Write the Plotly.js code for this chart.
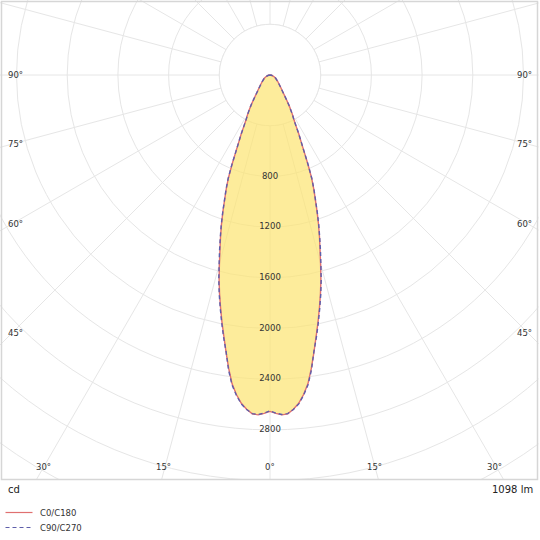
<!DOCTYPE html>
<html>
<head>
<meta charset="utf-8">
<script src="https://cdn.plot.ly/plotly-3.0.1.min.js"></script>
<style>
  body { margin: 0; width: 540px; height: 540px; overflow: hidden; position: relative; background: #fff; }
  #plot { position: absolute; left: -237.5px; top: -432.5px; }
</style>
</head>
<body>
<div id="plot"></div>
<script>
// gamma angles (deg from nadir) and luminous intensity (cd)
var gamma = [0,1,2,3,4,5,6,7,8,9,10,11,12,13,14,15,16,17,18,19,20,21,22,23,24,25,26,27,28,29,30,32,34,37,42,50,60,70,80,90];
var c0c180 = [2654,2670,2683,2677,2643,2600,2535,2455,2340,2215,2095,1986,1876,1770,1660,1542,1432,1335,1239,1142,1046,963,876,769,660,580,520,455,405,375,345,285,228,170,120,80,52,30,13,0];
var c90c270 = [2650,2668,2680,2675,2645,2605,2540,2462,2350,2212,2105,1995,1886,1780,1670,1552,1445,1342,1245,1146,1050,968,882,772,662,582,520,455,405,374,344,284,227,168,119,80,52,30,13,0];

var radialLabels = [800,1200,1600,2000,2400,2800];
var gridCircles = [400,800,1200,1600,2000,2400,2800,3200,3600,4000];
var seriesNames = ['C0/C180','C90/C270'];
var seriesColors = ['#e07070', '#5e5eaa'];
var seriesDash = ['solid', '4px,3px'];
var unitLabel = 'cd';
var fluxLabel = '1098 lm';

// page geometry: big polar div shifted so the pole sits at (269.5, 74.5)
var S = 1014, OX = 237.5, OY = 432.5;
function fx(x) { return (x + OX) / S; }
function fy(y) { return 1 - (y + OY) / S; }

// mirror a half-plane curve onto both sides (-90..90)
function both(vals, sign) {
  var out = [];
  for (var i = vals.length - 1; i > 0; i--) out.push(sign ? -vals[i] : vals[i]);
  for (var j = 0; j < vals.length; j++) out.push(vals[j]);
  return out;
}
var theta = both(gamma, true);
var r0 = both(c0c180, false);
var r90 = both(c90c270, false);

// white disc inside the first grid circle
var maskT = [], maskR = [];
for (var a = 0; a <= 360; a += 5) { maskT.push(a); maskR.push(gridCircles[0]); }

var gridColor = '#e6e6e6';
var font = {family: 'DejaVu Sans, Verdana, sans-serif', size: 8.5, color: '#333'};

var data = [
  {type: 'scatterpolar', r: maskR, theta: maskT, mode: 'lines', fill: 'toself',
   fillcolor: '#fff', line: {color: gridColor, width: 1}, hoverinfo: 'skip'},
  {type: 'scatterpolar', r: r0, theta: theta, mode: 'lines', fill: 'toself',
   fillcolor: 'rgba(252,228,112,0.7)', line: {width: 0}, hoverinfo: 'skip'},
  {type: 'scatterpolar', r: r0, theta: theta, mode: 'lines', name: seriesNames[0],
   line: {color: seriesColors[0], width: 1.4, dash: seriesDash[0]}, hoverinfo: 'skip'},
  {type: 'scatterpolar', r: r90, theta: theta, mode: 'lines', name: seriesNames[1],
   line: {color: seriesColors[1], width: 1.4, dash: seriesDash[1]}, hoverinfo: 'skip'},
  {type: 'scatterpolar', r: radialLabels, theta: radialLabels.map(function () { return 0; }),
   mode: 'text', text: radialLabels.map(String), textfont: font, hoverinfo: 'skip'}
];

var angT = [];
for (var t = 0; t < 360; t += 15) angT.push(t);

var annotations = [];
function ann(text, x, y, xa, f) {
  annotations.push({text: text, x: fx(x), y: fy(y), xref: 'paper', yref: 'paper',
    xanchor: xa, yanchor: 'middle', showarrow: false, font: f || font});
}
var sideAngles = ['90°','75°','60°','45°'];
var sideY = [75, 143, 223, 332];
for (var k = 0; k < sideAngles.length; k++) {
  ann(sideAngles[k], 5, sideY[k], 'left');
  ann(sideAngles[k], 533, sideY[k], 'right');
}
var bottomAngles = ['30°','15°','0°','15°','30°'];
var bottomX = [43, 163, 269, 374, 494];
for (var m = 0; m < bottomAngles.length; m++) ann(bottomAngles[m], bottomX[m], 466, 'center');

var bigFont = {family: font.family, size: 10, color: '#222'};
ann(unitLabel, 5, 489, 'left', bigFont);
ann(fluxLabel, 534, 489, 'right', bigFont);

var shapes = [
  {type: 'rect', xref: 'paper', yref: 'paper', layer: 'above', x0: fx(-20), x1: fx(600),
   y0: fy(479.5), y1: fy(620), fillcolor: '#fff', line: {width: 0}},
  {type: 'rect', xref: 'paper', yref: 'paper', layer: 'above', x0: fx(538), x1: fx(600),
   y0: fy(-20), y1: fy(620), fillcolor: '#fff', line: {width: 0}},
  {type: 'rect', xref: 'paper', yref: 'paper', layer: 'above', x0: fx(1), x1: fx(537),
   y0: fy(1), y1: fy(479), line: {color: '#d6d6d6', width: 1.5}}
];

// legend rows below the chart
var legendY = [512, 527];
for (var s = 0; s < seriesNames.length; s++) {
  shapes.push({type: 'line', xref: 'paper', yref: 'paper', layer: 'above',
    x0: fx(5), x1: fx(32), y0: fy(legendY[s]), y1: fy(legendY[s]),
    line: {color: seriesColors[s], width: 1.2, dash: seriesDash[s]}});
  ann(seriesNames[s], 37, legendY[s], 'left');
}

var layout = {
  width: S, height: S,
  margin: {l: 0, r: 0, t: 0, b: 0, pad: 0},
  paper_bgcolor: '#fff',
  showlegend: false,
  polar: {
    domain: {x: [0, 1], y: [0, 1]},
    bgcolor: '#fff',
    radialaxis: {range: [0, 4000], tickvals: gridCircles, showticklabels: false, ticks: '',
      showline: false, gridcolor: gridColor, gridwidth: 1},
    angularaxis: {rotation: -90, direction: 'counterclockwise', tickvals: angT,
      showticklabels: false, ticks: '', showline: false, gridcolor: gridColor, gridwidth: 1}
  },
  shapes: shapes,
  annotations: annotations
};

Plotly.newPlot('plot', data, layout, {displayModeBar: false, staticPlot: true});
</script>
</body>
</html>
